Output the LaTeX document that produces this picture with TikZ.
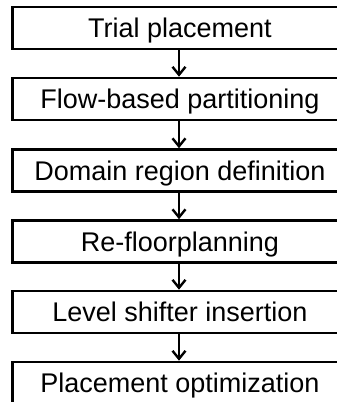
\documentclass[tikz,border=0pt]{standalone}
\usepackage{fontspec}
\setmainfont{Liberation Sans}
\usetikzlibrary{arrows.meta}
\begin{document}
\begin{tikzpicture}[x=1bp,y=-1bp,
  stepbox/.style={draw=black, line width=2.6bp, fill=white, rectangle,
    minimum width=335bp, minimum height=42bp, inner sep=0pt,
    text height=19.5bp, text depth=0pt,
    font=\fontsize{27bp}{32bp}\selectfont},
  flowarrow/.style={draw=black, line width=2.4bp,
    -{Straight Barb[length=8bp,width=13bp,line width=2.4bp]}}]
  \useasboundingbox (0,0) rectangle (337,402);
  \begin{scope}
  \clip (0,0) rectangle (337,402);
  \node[stepbox] (s1) at (180,28)  {Trial placement};
  \node[stepbox] (s2) at (180,99)  {Flow-based partitioning};
  \node[stepbox] (s3) at (180,170.5) {Domain region definition};
  \node[stepbox] (s4) at (180,241.5) {Re-floorplanning};
  \node[stepbox] (s5) at (180,312) {Level shifter insertion};
  \node[stepbox] (s6) at (180,383) {Placement optimization};
  \foreach \a/\b in {s1/s2,s2/s3,s3/s4,s4/s5,s5/s6}
    \draw[flowarrow] ([xshift=-1bp]\a.south) -- ([xshift=-1bp]\b.north);
  \end{scope}
\end{tikzpicture}
\end{document}
